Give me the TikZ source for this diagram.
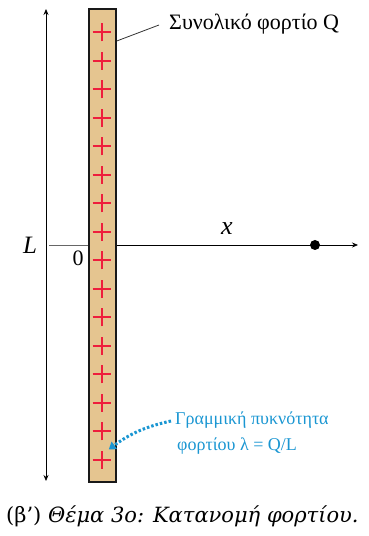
\documentclass[tikz,border=0pt]{standalone}
\usepackage{fontspec}
\setmainfont{Liberation Serif}
\newfontfamily\capfont{DejaVu Serif}
\usetikzlibrary{arrows.meta, positioning, calc}
\definecolor{RodTan}{RGB}{229, 197, 144}
\definecolor{PlusRed}{RGB}{238, 30, 60}
\definecolor{NoteBlue}{RGB}{26, 150, 210}
\tikzset{
    rod/.style={rectangle, draw=black!90, line width=2pt, fill=RodTan, minimum width=26.5pt, minimum height=473pt, inner sep=0pt},
    plus/.style={draw=PlusRed, line width=2pt},
    axis/.style={-{Stealth[length=6pt, width=5pt]}, line width=0.7pt},
    dimline/.style={{Stealth[length=6pt, width=5pt]}-{Stealth[length=6pt, width=5pt]}, line width=0.7pt},
    label/.style={font=\fontsize{22}{26}\selectfont, inner sep=0pt},
    note/.style={font=\fontsize{18}{22}\selectfont, text=NoteBlue, inner sep=0pt},
    notearrow/.style={-{Triangle[length=7pt, width=9pt]}, draw=NoteBlue, line width=3pt, dash pattern=on 2.5pt off 2pt}
}
\begin{document}
\begin{tikzpicture}[x=1pt, y=1pt]
    \useasboundingbox (0,0) rectangle (368,536);

    \coordinate (axL) at (49,291);
    \coordinate (axR) at (358,291);
    \coordinate (Ltop) at (46,527);
    \coordinate (Lbot) at (46,55);

    \draw[black!60, line width=0.9pt] (axL) -- (88,291);
    \node[rod] (rod) at (102.5,290.5) {};
    \foreach \i in {0,...,15} {
        \draw[plus] (92.7,503.7-28.5*\i) -- (110.7,503.7-28.5*\i);
        \draw[plus] (101.7,494.7-28.5*\i) -- (101.7,512.7-28.5*\i);
    }

    \draw[axis] (rod.east |- axR) -- (axR);
    \node[circle, fill=black, minimum size=10pt, inner sep=0pt] (pt) at (315,291) {};
    \draw[dimline] (Lbot) -- (Ltop);

    \node[label, font=\fontsize{25}{28}\selectfont\itshape] (lenL) at (30,291) {L};
    \node[label, font=\fontsize{22}{26}\selectfont] (zero) at (78,278) {0};
    \node[label, font=\fontsize{26}{28}\selectfont\itshape] (xlab) at (227,307) {x};

    \node[label, anchor=base west] (total) at (169,506) {Συνολικό φορτίο Q};
    \draw[black!80, line width=0.8pt] ($(rod.east)+(0,204.5)$) -- ($(total.base west)+(-10,5)$);

    \node[note, anchor=base west] (dens1) at (175,111) {Γραμμική πυκνότητα};
    \node[note, anchor=base west] (dens2) at (177,85) {φορτίου λ = Q/L};
    \draw[notearrow] ($(dens1.base west)+(-4,4)$) to[bend right=12] ($(rod.east)+(-8,-204)$);

    \node[anchor=base west, inner sep=0pt, font=\capfont\fontsize{21}{24}\selectfont] (caption) at (6,13) {(β’) \itshape Θέμα 3ο: Κατανομή φορτίου.};
\end{tikzpicture}
\end{document}
